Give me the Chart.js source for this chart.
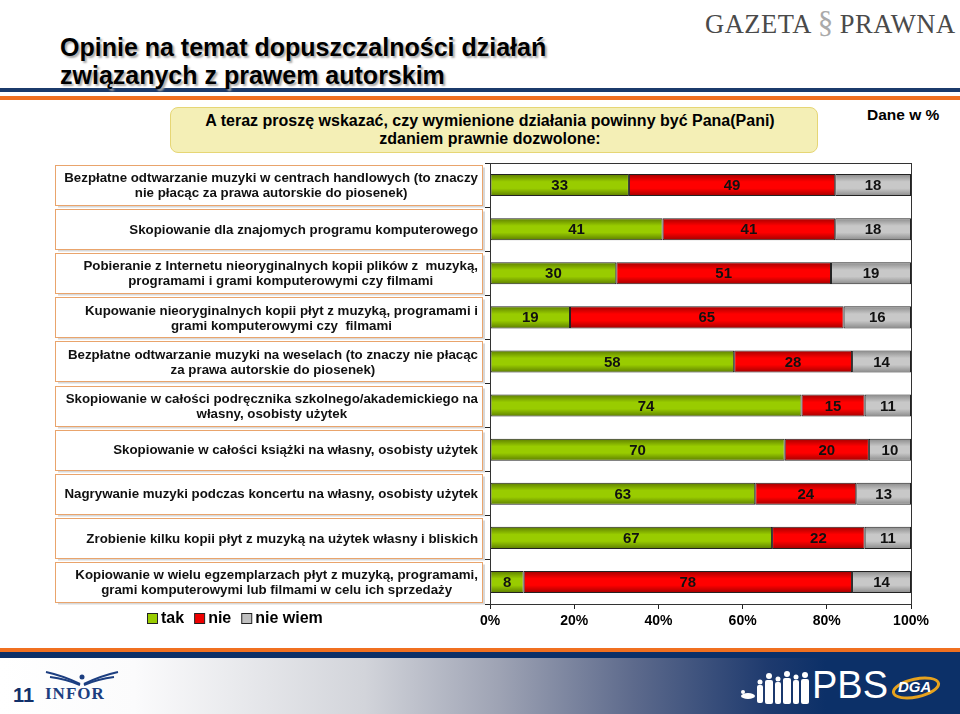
<!DOCTYPE html>
<html>
<head>
<meta charset="utf-8">
<script src="https://cdn.jsdelivr.net/npm/chart.js@4.4.1/dist/chart.umd.min.js"></script>
<style>
  body { margin: 0; width: 960px; height: 714px; overflow: hidden; background: #fff; font-family: "Liberation Sans", Arial, sans-serif; }
  .abs { position: absolute; }
  #title { left: 60px; top: 33px; font-size: 25px; font-weight: bold; line-height: 28px; color: #000; text-shadow: 2px 2px 2px #aaa; z-index: 2; }
  #logo { left: 705px; top: 5px; font-family: "Liberation Serif", serif; font-size: 26.5px; color: #4a4a4a; letter-spacing: 0.5px; white-space: nowrap; }
  #logo .sw { color: #aaa; font-size: 31px; margin: 0 6px; }
  #qbox { left: 170px; top: 107px; width: 646px; height: 44px; background: #f4efb6; border: 1px solid #e6d675; border-radius: 8px; }
  .q { left: 190px; width: 600px; text-align: center; font-size: 16px; font-weight: bold; white-space: nowrap; }
  #footer { left: 0; top: 658px; width: 960px; height: 56px;
    background: linear-gradient(to right, #fff 0%, #fbfbfc 14%, #d2d4da 38%, #9ea3b4 52%, #5d6a8c 66%, #1e3a6e 80%, #0c3068 86%, #0c3068 100%); }
</style>
</head>
<body>
<div class="abs" style="left:0;top:88px;width:960px;height:4px;background:#1b3a6b"></div>
<div class="abs" style="left:0;top:96px;width:960px;height:4px;background:#f07020"></div>
<div id="title" class="abs">Opinie na temat dopuszczalności działań<br>związanych z prawem autorskim</div>
<div id="logo" class="abs">GAZETA<span class="sw">§</span>PRAWNA</div>
<div id="qbox" class="abs"></div>
<div class="abs q" style="top:112px">A teraz proszę wskazać, czy wymienione działania powinny być Pana(Pani)</div>
<div class="abs q" style="top:130px">zdaniem prawnie dozwolone:</div>
<div class="abs" style="left:867px;top:106px;font-size:15.5px;font-weight:bold">Dane w %</div>

<div class="abs" style="left:0;top:648px;width:960px;height:4px;background:#f07020"></div>
<div class="abs" style="left:0;top:652px;width:960px;height:6px;background:#0c3068"></div>
<div id="footer" class="abs"></div>
<div class="abs" style="left:13px;top:684px;font-size:20px;font-weight:bold;color:#12306a">11</div>
<svg class="abs" style="left:44px;top:668px" width="76" height="20">
  <path d="M2 4 Q20 8 36 16" stroke="#1c3e80" stroke-width="2" fill="none"/>
  <path d="M6 9 Q22 11 36 17" stroke="#1c3e80" stroke-width="2" fill="none"/>
  <path d="M74 4 Q56 8 40 16" stroke="#1c3e80" stroke-width="2" fill="none"/>
  <path d="M70 9 Q54 11 40 17" stroke="#1c3e80" stroke-width="2" fill="none"/>
  <circle cx="38" cy="9" r="2.5" fill="#1c3e80"/>
</svg>
<div class="abs" style="left:45px;top:684px;font-family:'Liberation Serif',serif;font-weight:bold;font-size:17px;letter-spacing:1px;color:#1c3e80">INFOR</div>
<svg class="abs" style="left:740px;top:670px" width="72" height="34">
  <g fill="#fff">
    <ellipse cx="8" cy="26" rx="7" ry="3"/><circle cx="3" cy="22" r="2"/>
    <circle cx="20" cy="12" r="2.5"/><rect x="17" y="15" width="6" height="18" rx="2"/>
    <circle cx="29" cy="6" r="3"/><rect x="25" y="10" width="8" height="24" rx="2"/>
    <circle cx="38" cy="9" r="2.5"/><rect x="35" y="12" width="6" height="22" rx="2"/>
    <circle cx="47" cy="4" r="3"/><rect x="43" y="8" width="8" height="26" rx="2"/>
    <circle cx="56" cy="7" r="2.5"/><rect x="53" y="10" width="6" height="24" rx="2"/>
    <circle cx="65" cy="5" r="3"/><rect x="61" y="9" width="8" height="25" rx="2"/>
  </g>
</svg>
<div class="abs" style="left:812px;top:664px;font-size:38px;color:#fff">PBS</div>
<svg class="abs" style="left:890px;top:674px" width="52" height="26">
  <ellipse cx="26" cy="14" rx="23" ry="9" fill="none" stroke="#e6a21e" stroke-width="3" transform="rotate(-12 26 14)"/>
</svg>
<div class="abs" style="left:898px;top:678px;font-size:15px;font-weight:bold;font-style:italic;color:#fff">DGA</div>

<canvas id="c" class="abs" style="left:0;top:0;z-index:3" width="960" height="714"></canvas>

<script>
const categories = [
  ['Bezpłatne odtwarzanie muzyki w centrach handlowych (to znaczy', 'nie płacąc za prawa autorskie do piosenek)'],
  ['Skopiowanie dla znajomych programu komputerowego'],
  ['Pobieranie z Internetu nieoryginalnych kopii plików z  muzyką,', 'programami i grami komputerowymi czy filmami'],
  ['Kupowanie nieoryginalnych kopii płyt z muzyką, programami i', 'grami komputerowymi czy  filmami'],
  ['Bezpłatne odtwarzanie muzyki na weselach (to znaczy nie płacąc', 'za prawa autorskie do piosenek)'],
  ['Skopiowanie w całości podręcznika szkolnego/akademickiego na', 'własny, osobisty użytek'],
  ['Skopiowanie w całości książki na własny, osobisty użytek'],
  ['Nagrywanie muzyki podczas koncertu na własny, osobisty użytek'],
  ['Zrobienie kilku kopii płyt z muzyką na użytek własny i bliskich'],
  ['Kopiowanie w wielu egzemplarzach płyt z muzyką, programami,', 'grami komputerowymi lub filmami w celu ich sprzedaży']
];
const takValues     = [33, 41, 30, 19, 58, 74, 70, 63, 67, 8];
const nieValues     = [49, 41, 51, 65, 28, 15, 20, 24, 22, 78];
const nieWiemValues = [18, 18, 19, 16, 14, 11, 10, 13, 11, 14];
const seriesNames   = ['tak', 'nie', 'nie wiem'];
const xTickValues   = [0, 20, 40, 60, 80, 100];

const FONT = '"Liberation Sans", Arial, sans-serif';
const BAR_H = 22;

function barFill(base, dark) {
  return (ctx) => {
    const chart = ctx.chart;
    if (!chart.chartArea || !chart.scales.y) return base;
    const y = chart.scales.y.getPixelForValue(ctx.dataIndex);
    const g = chart.ctx.createLinearGradient(0, y - BAR_H / 2, 0, y + BAR_H / 2);
    g.addColorStop(0, dark);
    g.addColorStop(0.35, base);
    g.addColorStop(0.65, base);
    g.addColorStop(1, dark);
    return g;
  };
}

// boxes with category names left of the axis
const labelBoxes = {
  id: 'labelBoxes',
  afterDraw(chart) {
    const ctx = chart.ctx, ys = chart.scales.y;
    ctx.save();
    ctx.font = 'bold 13.3px ' + FONT;
    ctx.textBaseline = 'middle';
    ctx.textAlign = 'center';
    chart.data.labels.forEach((lines, i) => {
      const yc = ys.getPixelForValue(i);
      const top = Math.round(yc - 20) + 0.5;
      ctx.fillStyle = '#d8d8d8';
      ctx.fillRect(58, top + 2, 427, 40);
      ctx.fillStyle = '#fff';
      ctx.fillRect(55.5, top, 427, 40);
      ctx.strokeStyle = '#e9a46c';
      ctx.lineWidth = 1;
      ctx.strokeRect(55.5, top, 427, 40);
      const w = Math.max(...lines.map(l => ctx.measureText(l).width));
      const cx = 478 - w / 2;
      ctx.fillStyle = '#111';
      lines.forEach((l, k) => {
        const dy = (k - (lines.length - 1) / 2) * 15;
        ctx.fillText(l, cx, yc + dy + 1);
      });
    });
    ctx.restore();
  }
};

const barValues = {
  id: 'barValues',
  afterDatasetsDraw(chart) {
    const ctx = chart.ctx;
    ctx.save();
    ctx.font = 'bold 15px ' + FONT;
    ctx.textAlign = 'center';
    ctx.textBaseline = 'middle';
    ctx.fillStyle = '#111';
    chart.data.datasets.forEach((ds, d) => {
      chart.getDatasetMeta(d).data.forEach((bar, i) => {
        ctx.fillText(ds.data[i], (bar.x + bar.base) / 2, bar.y + 1);
      });
    });
    // frame round the plot
    const a = chart.chartArea;
    ctx.strokeStyle = '#333';
    ctx.lineWidth = 1;
    ctx.strokeRect(Math.round(a.left) + 0.5, Math.round(a.top) + 0.5, Math.round(a.right - a.left), Math.round(a.bottom - a.top));
    ctx.restore();
  }
};

const bottomLegend = {
  id: 'bottomLegend',
  afterDraw(chart) {
    const ctx = chart.ctx;
    ctx.save();
    ctx.font = 'bold 16px ' + FONT;
    ctx.textBaseline = 'middle';
    let x = 147;
    const y = 619;
    chart.data.datasets.forEach(ds => {
      ctx.fillStyle = ds.legendColor;
      ctx.fillRect(x + 0.5, y - 5.5, 10, 10);
      ctx.strokeStyle = '#222';
      ctx.strokeRect(x + 0.5, y - 5.5, 10, 10);
      ctx.fillStyle = '#000';
      ctx.fillText(ds.label, x + 14, y);
      x += 14 + ctx.measureText(ds.label).width + 10;
    });
    ctx.restore();
  }
};

new Chart(document.getElementById('c'), {
  type: 'bar',
  data: {
    labels: categories,
    datasets: [
      { label: seriesNames[0], data: takValues, backgroundColor: barFill('#99cc00', '#5c7d00'), legendColor: '#99cc00' },
      { label: seriesNames[1], data: nieValues, backgroundColor: barFill('#ff0000', '#a30000'), legendColor: '#ee0000' },
      { label: seriesNames[2], data: nieWiemValues, backgroundColor: barFill('#c8c8c8', '#8a8a8a'), legendColor: '#c0c0c0' }
    ].map(ds => Object.assign(ds, { borderColor: '#222', borderWidth: 1, borderSkipped: false, barPercentage: 0.5, categoryPercentage: 1 }))
  },
  options: {
    indexAxis: 'y',
    responsive: false,
    animation: false,
    layout: { padding: { left: 480, right: 49, top: 163, bottom: 80 } },
    plugins: { legend: { display: false }, tooltip: { enabled: false } },
    scales: {
      x: {
        stacked: true, min: 0, max: 100,
        afterBuildTicks: (s) => { s.ticks = xTickValues.map(v => ({ value: v })); },
        afterFit: (s) => { s.height = 30; },
        ticks: { callback: v => v + '%', color: '#000', font: { family: FONT, size: 14, weight: 'bold' }, padding: 4, maxRotation: 0 },
        grid: { drawOnChartArea: false, tickLength: 5, color: '#222' },
        border: { color: '#222' }
      },
      y: {
        stacked: true,
        afterFit: (s) => { s.width = 10; },
        ticks: { display: false },
        grid: { drawOnChartArea: false, tickLength: 5, color: '#222', offset: true },
        border: { color: '#222' }
      }
    }
  },
  plugins: [labelBoxes, barValues, bottomLegend]
});
</script>
</body>
</html>
